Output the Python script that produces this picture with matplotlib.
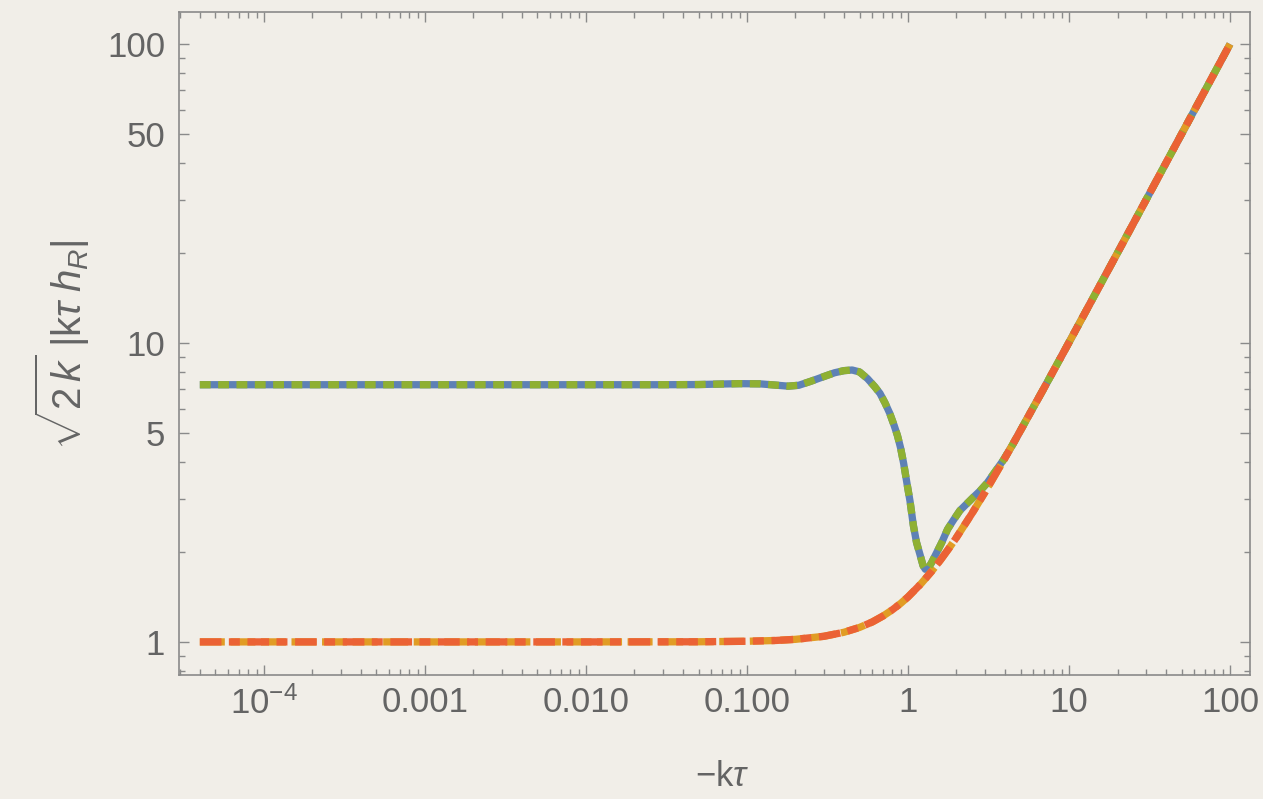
import matplotlib
matplotlib.use("Agg")
import matplotlib.pyplot as plt
from matplotlib.ticker import FixedLocator, NullFormatter, FixedFormatter

# ---- data ----
x_upper = [4e-5, 1e-4, 1e-3, 0.01, 0.03, 0.05, 0.07, 0.09, 0.12, 0.15, 0.18, 0.21,
           0.25, 0.3, 0.35, 0.4, 0.45, 0.5, 0.56, 0.62, 0.67, 0.72, 0.77, 0.82,
           0.86, 0.9, 0.94, 0.98, 1.03, 1.08, 1.13, 1.19, 1.24, 1.28, 1.33, 1.4,
           1.5, 1.62, 1.76, 1.91, 2.1, 2.32, 2.55, 2.8, 3.1, 3.4, 3.9, 4.5, 5.5,
           7.0, 10.0, 20.0, 50.0, 100.0]
y_upper = [7.25, 7.25, 7.25, 7.25, 7.25, 7.26, 7.29, 7.31, 7.30, 7.23, 7.17, 7.22,
           7.45, 7.72, 7.95, 8.08, 8.12, 8.00, 7.60, 7.15, 6.78, 6.30, 5.82, 5.30,
           4.90, 4.45, 3.95, 3.45, 2.95, 2.45, 2.15, 1.95, 1.80, 1.75, 1.76, 1.84,
           1.98, 2.15, 2.38, 2.55, 2.75, 2.90, 3.05, 3.20, 3.40, 3.65, 4.05, 4.60,
           5.60, 7.07, 10.05, 20.02, 50.0, 100.0]

x_lower = [4e-5, 1e-4, 1e-3, 0.01, 0.05, 0.1, 0.15, 0.2, 0.3, 0.4, 0.5, 0.6, 0.7,
           0.8, 0.9, 1.0, 1.2, 1.4, 1.6, 1.8, 2.0, 2.5, 3.0, 4.0, 5.0, 7.0, 10.0,
           20.0, 50.0, 100.0]
y_lower = [1.0, 1.0, 1.0, 1.0, 1.001, 1.005, 1.011, 1.02, 1.044, 1.077, 1.118,
           1.166, 1.221, 1.281, 1.345, 1.414, 1.562, 1.720, 1.887, 2.059, 2.236,
           2.693, 3.162, 4.123, 5.099, 7.071, 10.05, 20.02, 50.01, 100.0]

x_major = [1e-4, 1e-3, 1e-2, 1e-1, 1, 10, 100]
x_labels = [r'$10^{-4}$', '0.001', '0.010', '0.100', '1', '10', '100']
y_major = [1, 5, 10, 50, 100]
y_labels = ['1', '5', '10', '50', '100']

# ---- style ----
plt.rcParams['lines.scale_dashes'] = False
plt.rcParams['font.family'] = ['Liberation Sans', 'DejaVu Sans']
plt.rcParams['mathtext.fontset'] = 'custom'
plt.rcParams['mathtext.rm'] = 'Liberation Sans'
plt.rcParams['mathtext.it'] = 'Liberation Sans:italic'
plt.rcParams['mathtext.bf'] = 'Liberation Sans:bold'

BG = '#f1eee8'
TXT = '#646464'
FRAME = '#8a8a8a'
BLUE, ORANGE, GREEN, RED = '#5E81B5', '#E19C24', '#8FB032', '#EB6235'

fig = plt.figure(figsize=(12.63, 7.99), dpi=100, facecolor=BG)
ax = fig.add_axes([179/1263, 1 - 675/799, (1250-179)/1263, (675-12)/799])
ax.set_facecolor(BG)

lw = 5.25
ax.plot(x_upper, y_upper, color=BLUE, lw=lw, solid_capstyle='butt')
ax.plot(x_lower, y_lower, color=ORANGE, lw=lw, linestyle=(0, (18, 4)), dash_capstyle='butt')
ax.plot(x_upper, y_upper, color=GREEN, lw=lw, linestyle=(0, (7.8, 5.4)), dash_capstyle='butt')
ax.plot(x_lower, y_lower, color=RED, lw=lw, linestyle=(0, (15.6, 5.3, 7.9, 5.5)), dash_capstyle='butt')

ax.set_xscale('log')
ax.set_yscale('log')
ax.set_xlim(2.97e-5, 133)
ax.set_ylim(0.775, 128)

# ticks
ax.xaxis.set_major_locator(FixedLocator(x_major))
ax.xaxis.set_major_formatter(FixedFormatter(x_labels))
xminor = [m * 10.0**e for e in range(-5, 3) for m in range(2, 10)]
ax.xaxis.set_minor_locator(FixedLocator(xminor))
ax.xaxis.set_minor_formatter(NullFormatter())

ax.yaxis.set_major_locator(FixedLocator(y_major))
ax.yaxis.set_major_formatter(FixedFormatter(y_labels))
yminor = [0.8, 0.9, 2, 3, 4, 6, 7, 8, 9, 20, 30, 40, 60, 70, 80, 90]
ax.yaxis.set_minor_locator(FixedLocator(yminor))
ax.yaxis.set_minor_formatter(NullFormatter())

ax.tick_params(which='both', direction='in', top=True, right=True, color=FRAME,
               width=1.0, labelcolor=TXT, labelsize=25)
ax.tick_params(which='major', length=7.2)
ax.tick_params(which='minor', length=4.3)
ax.tick_params(axis='x', which='major', pad=8)
ax.tick_params(axis='y', which='major', pad=10)

for s in ax.spines.values():
    s.set_color(FRAME)
    s.set_linewidth(1.2)

fig.text(722/1263, 1 - 776/799, r'$-\mathrm{k}\tau$', ha='center', va='center',
         fontsize=25, color=TXT)
fig.text(62/1263, 1 - 345/799, r'$\sqrt{2\,k}\;|\mathrm{k}\tau\;h_R|$', ha='center',
         va='center', rotation=90, fontsize=29, color=TXT)

fig.savefig('out.png', dpi=100, facecolor=BG)
